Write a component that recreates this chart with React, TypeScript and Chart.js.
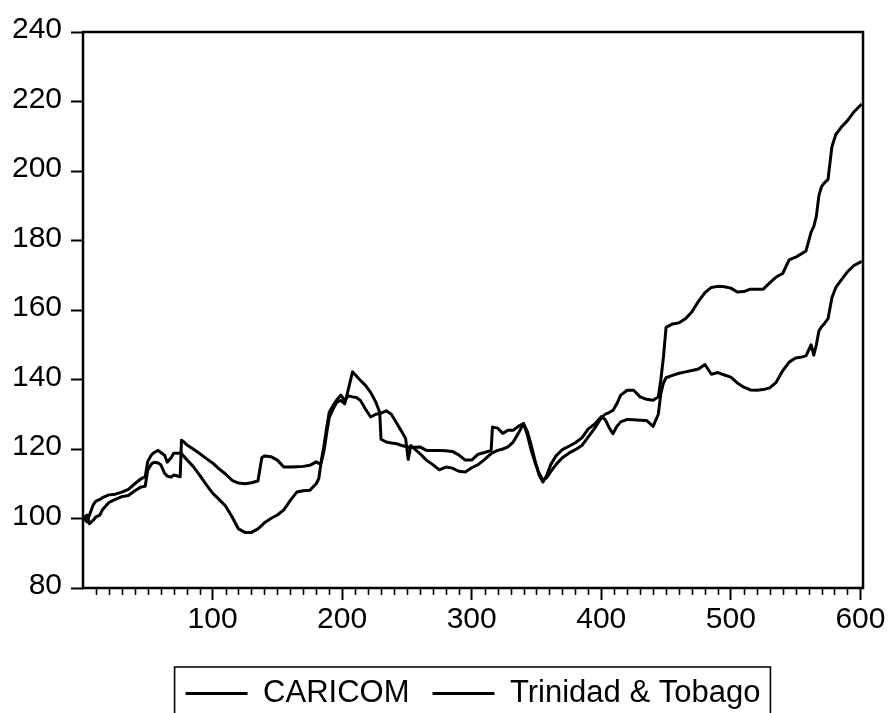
import { useEffect, useRef } from 'react';
import { Chart, registerables } from 'chart.js';

Chart.register(...registerables);

// Observation index (shared by both series)
const OBS = [
  0, 3, 5, 8, 10, 13, 15, 20, 25, 30,
  35, 40, 45, 48, 50, 53, 55, 58, 60, 63,
  65, 68, 70, 75, 76, 78, 80, 85, 90, 95,
  100, 105, 110, 115, 120, 125, 130, 135, 138, 140,
  145, 150, 155, 160, 165, 170, 175, 180, 182, 184,
  186, 188, 190, 193, 196, 199, 202, 205, 208, 211,
  214, 218, 222, 226, 229, 230, 234, 238, 242, 246,
  249, 251, 253, 256, 260, 265, 270, 275, 280, 285,
  290, 295, 300, 305, 310, 315, 316, 320, 324, 328,
  332, 336, 340, 343, 346, 349, 352, 355, 358, 361,
  365, 370, 375, 380, 385, 390, 395, 400, 403, 406,
  409, 412, 415, 420, 425, 430, 435, 440, 444, 446,
  448, 450, 455, 460, 465, 470, 475, 480, 485, 490,
  495, 500, 505, 510, 515, 520, 525, 530, 535, 540,
  545, 550, 555, 558, 562, 564, 566, 568, 570, 572,
  575, 578, 581, 585, 590, 595, 601,
];

const CARICOM = [
  100, 101, 98.5, 99.5, 100.5, 101, 102.5, 104.6, 105.5, 106.3,
  106.6, 108, 109.1, 109.3, 114, 115.8, 116.2, 116, 115.5, 113,
  112.2, 111.9, 112.5, 112, 122.5, 122, 121.2, 120, 118.7, 117.3,
  116, 114.3, 112.8, 111, 110.2, 110, 110.3, 110.8, 117.5, 118,
  117.8, 116.8, 114.8, 114.8, 114.9, 115, 115.3, 116.3, 115.8, 116.2,
  119.5, 124.4, 129, 131.5, 133.5, 134, 133, 137.5, 142.2, 141,
  139.8, 138.3, 136.3, 133.5, 130.5, 122.8, 122, 121.7, 121.5, 121,
  120.7, 120.6, 120.4, 120.5, 120.6, 119.6, 119.6, 119.6, 119.5, 119.3,
  118.3, 116.8, 116.8, 118.5, 119, 119.6, 126.3, 126, 124.5, 125.4,
  125.4, 126.5, 127.3, 125, 121, 116.5, 112.5, 110.5, 112.5, 115.5,
  118, 119.8, 120.8, 121.8, 123.2, 125.8, 127.2, 129.3, 128.5, 126.2,
  124.4, 126.5, 127.8, 128.5, 128.4, 128.3, 128.2, 126.5, 130, 136,
  139, 140.5, 141.2, 141.8, 142.2, 142.6, 143, 144.3, 141.5, 142,
  141.3, 140.7, 139, 137.8, 137, 136.9, 137.1, 137.6, 139.2, 142.5,
  145, 146.2, 146.5, 146.8, 150, 147, 150, 154, 155.2, 156,
  157.5, 163.5, 166.5, 168.5, 171, 172.8, 174,
];

const TRINIDAD_TOBAGO = [
  100.5, 99, 101, 104, 105, 105.5, 106, 106.8, 107, 107.6,
  108.4, 110, 111.5, 112, 116.5, 118.4, 119, 119.6, 119, 118.2,
  116.2, 117.5, 118.8, 118.8, 118.7, 117.8, 117, 115, 112.5, 109.8,
  107.3, 105.5, 103.6, 100.5, 97, 96, 96, 97, 98, 98.8,
  100, 101, 102.5, 105.2, 107.6, 108, 108.1, 110, 111.5, 116.8,
  121, 126, 130.5, 132.5, 134.2, 135.5, 134, 135.3, 135, 134.8,
  134, 131.5, 129.2, 130, 130.2, 130.3, 131, 130, 127.5, 125,
  123, 117, 121, 120, 118.7, 116.8, 115.5, 114, 114.8, 114.5,
  113.6, 113.4, 114.6, 115.5, 117, 118.7, 118.9, 119.6, 120, 120.6,
  122, 124.5, 127.3, 124, 119.5, 116, 113, 111, 111.8, 113.5,
  115.5, 117.5, 118.8, 119.8, 121, 123.5, 126, 129, 130, 130.5,
  131.1, 133, 135.5, 136.9, 136.9, 135, 134.3, 134, 135, 140,
  146.5, 155, 156, 156.3, 157.5, 159.5, 162.5, 165, 166.5, 166.8,
  166.7, 166.3, 165.2, 165.3, 166, 166, 166, 167.8, 169.5, 170.5,
  174.4, 175.2, 176.3, 177, 182.5, 184, 187, 193, 195.5, 196.5,
  197.6, 207, 210.5, 212.5, 214.5, 217, 219.3,
];

const SERIES_NAMES = ['CARICOM', 'Trinidad & Tobago'];

const X_MIN = 0;
const X_MAX = 602;
const X_MINOR_STEP = 10;
const X_MAJOR_STEP = 100;
const Y_MIN = 80;
const Y_MAX = 240;
const Y_STEP = 20;

const FONT_FAMILY = "'Liberation Sans', Arial, Helvetica, sans-serif";

export default function App() {
  const canvasRef = useRef<HTMLCanvasElement | null>(null);

  useEffect(() => {
    const canvas = canvasRef.current;
    if (!canvas) return;

    const framePlugin = {
      id: 'frame',
      afterDraw(chart: any) {
        const ctx = chart.ctx;
        const area = chart.chartArea;
        const xs = chart.scales.x;
        ctx.save();
        ctx.strokeStyle = '#000';
        // plot frame
        ctx.lineWidth = 2.5;
        ctx.strokeRect(area.left, area.top, area.right - area.left, area.bottom - area.top);
        // minor ticks on x axis
        ctx.lineWidth = 1.6;
        ctx.beginPath();
        for (let v = X_MINOR_STEP; v <= 600; v += X_MINOR_STEP) {
          if (v % X_MAJOR_STEP === 0) continue;
          const px = Math.round(xs.getPixelForValue(v)) + 0.5;
          ctx.moveTo(px, area.bottom);
          ctx.lineTo(px, area.bottom + 7);
        }
        ctx.stroke();
        // legend frame
        const lg = chart.legend;
        if (lg && lg.legendHitBoxes && lg.legendHitBoxes.length) {
          const hb = lg.legendHitBoxes;
          const left = hb[0].left - 11;
          const last = hb[hb.length - 1];
          const right = last.left + last.width + 10;
          const top = hb[0].top - 11;
          const bottom = chart.height + 5;
          ctx.lineWidth = 1.6;
          ctx.beginPath();
          ctx.moveTo(left, bottom);
          ctx.lineTo(left, top);
          ctx.lineTo(right, top);
          ctx.lineTo(right, bottom);
          ctx.stroke();
        }
        ctx.restore();
      },
    };

    const makeData = (vals: number[]) => OBS.map((x, i) => ({ x, y: vals[i] }));

    const chart = new Chart(canvas, {
      type: 'line',
      data: {
        datasets: [
          {
            label: SERIES_NAMES[0],
            data: makeData(CARICOM),
            borderColor: '#000',
            backgroundColor: '#000',
            borderWidth: 3,
            borderJoinStyle: 'round',
            pointRadius: 0,
            tension: 0,
            fill: false,
          },
          {
            label: SERIES_NAMES[1],
            data: makeData(TRINIDAD_TOBAGO),
            borderColor: '#000',
            backgroundColor: '#000',
            borderWidth: 3,
            borderJoinStyle: 'round',
            pointRadius: 0,
            tension: 0,
            fill: false,
          },
        ],
      },
      options: {
        responsive: false,
        animation: false,
        devicePixelRatio: 1,
        events: [],
        layout: { padding: { left: 0, right: 25, top: 32, bottom: 0 } },
        plugins: {
          tooltip: { enabled: false },
          legend: {
            position: 'bottom',
            fullSize: false,
            maxHeight: 58,
            labels: {
              color: '#000',
              font: { family: FONT_FAMILY, size: 31 },
              boxWidth: 62,
              boxHeight: 3,
              padding: 23,
              generateLabels: (c: any) =>
                c.data.datasets.map((ds: any, i: number) => ({
                  text: ds.label,
                  fillStyle: '#000',
                  strokeStyle: '#000',
                  lineWidth: 0,
                  hidden: false,
                  datasetIndex: i,
                  fontColor: '#000',
                })),
            },
          },
        },
        scales: {
          x: {
            type: 'linear',
            min: X_MIN,
            max: X_MAX,
            afterBuildTicks: (s: any) => {
              const t: { value: number }[] = [];
              for (let v = X_MINOR_STEP; v <= 600; v += X_MINOR_STEP) t.push({ value: v });
              t.push({ value: X_MAX });
              s.ticks = t;
            },
            afterFit: (s: any) => {
              s.height = 67;
            },
            ticks: {
              autoSkip: false,
              maxRotation: 0,
              minRotation: 0,
              padding: 2,
              color: '#000',
              font: { family: FONT_FAMILY, size: 30 },
              callback: (v: any) => (Number(v) % X_MAJOR_STEP === 0 && Number(v) > 0 ? String(v) : ''),
            },
            grid: {
              drawOnChartArea: false,
              drawTicks: true,
              tickLength: 12,
              tickWidth: 2,
              tickColor: (c: any) =>
                c.tick && c.tick.value % X_MAJOR_STEP === 0 ? '#000' : 'rgba(0,0,0,0)',
            },
            border: { display: false },
          },
          y: {
            type: 'linear',
            min: Y_MIN,
            max: Y_MAX,
            afterFit: (s: any) => {
              s.width = 83;
            },
            ticks: {
              stepSize: Y_STEP,
              padding: 9,
              labelOffset: -2,
              color: '#000',
              font: { family: FONT_FAMILY, size: 30 },
            },
            grid: {
              drawOnChartArea: false,
              drawTicks: true,
              tickLength: 12,
              tickWidth: 2,
              tickColor: '#000',
            },
            border: { display: false },
          },
        },
      },
      plugins: [framePlugin],
    } as any);

    return () => chart.destroy();
  }, []);

  return (
    <div style={{ position: 'absolute', left: 0, top: 0, width: 888, height: 713, background: '#fff' }}>
      <canvas ref={canvasRef} width={888} height={713} style={{ display: 'block', width: 888, height: 713 }} />
    </div>
  );
}
